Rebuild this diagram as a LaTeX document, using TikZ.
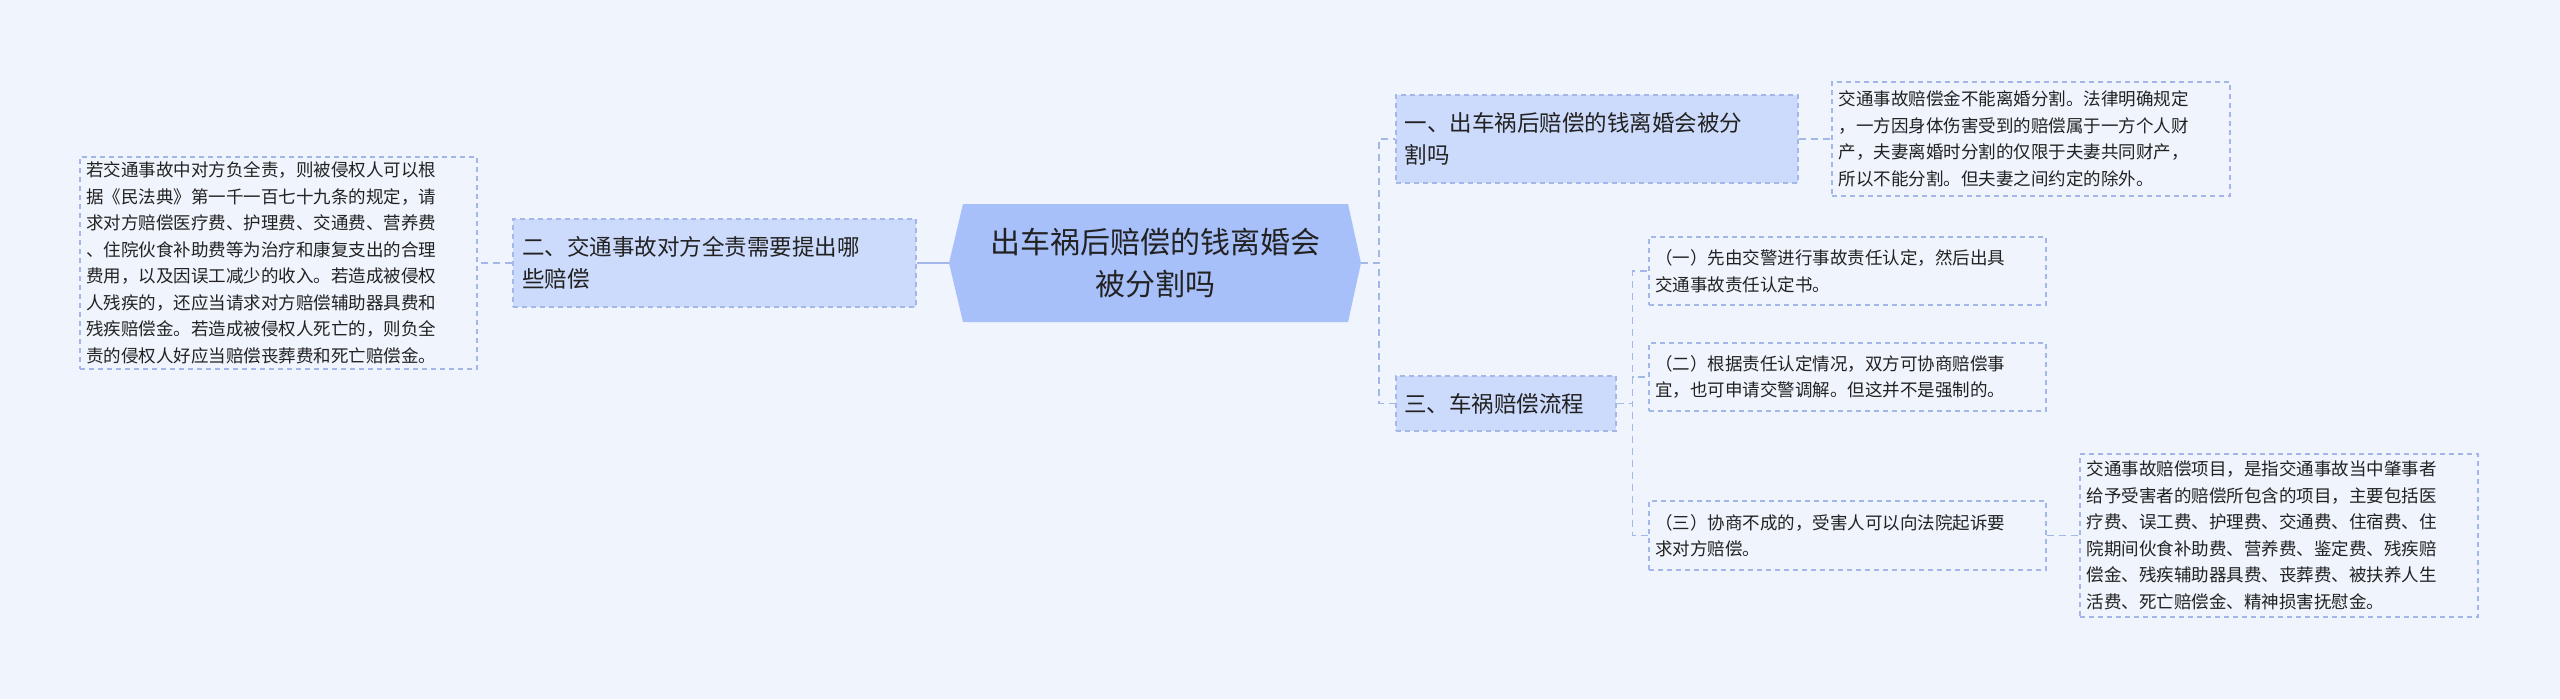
\documentclass[tikz,border=0pt]{standalone}
\usepackage{fontspec}
\setmainfont{Noto Sans CJK SC}
\definecolor{bg}{HTML}{EFF4FD}
\definecolor{cfill}{HTML}{A8C0FA}
\definecolor{bfill}{HTML}{CCDAFB}
\definecolor{edge}{HTML}{A3B8E8}
\definecolor{txt}{HTML}{222222}
\tikzset{
 box/.style={draw=edge,dashed,line width=1.3pt,dash pattern=on 5pt off 4pt,inner sep=0pt,align=left,text=txt},
 small/.style={box,font=\fontsize{17.5}{26.5}\selectfont},
 branch/.style={box,fill=bfill,font=\fontsize{22.5}{32}\selectfont},
 conn/.style={draw=edge,line width=1.6pt,dash pattern=on 7pt off 5pt},
}
\begin{document}
\begin{tikzpicture}[x=1pt,y=-1pt]
\useasboundingbox[fill=bg] (0,0) rectangle (2560,699);
\fill[cfill] (963,204) -- (1348,204) -- (1361,263) -- (1348,322) -- (963,322) -- (949,263) -- cycle;
\node[text=txt,align=center,font=\fontsize{30}{42}\selectfont,minimum width=412pt,minimum height=118pt,inner sep=0pt]
  (c) at (1155,263) {出车祸后赔偿的钱离婚会\\被分割吗};
\node[branch,minimum width=403pt,minimum height=88pt,text width=385pt] (b2) at (714.5,263) {二、交通事故对方全责需要提出哪\\些赔偿};
\node[small,minimum width=397pt,minimum height=212pt,text width=385pt] (t2) at (278.5,263) {若交通事故中对方负全责，则被侵权人可以根\\据《民法典》第一千一百七十九条的规定，请\\求对方赔偿医疗费、护理费、交通费、营养费\\、住院伙食补助费等为治疗和康复支出的合理\\费用，以及因误工减少的收入。若造成被侵权\\人残疾的，还应当请求对方赔偿辅助器具费和\\残疾赔偿金。若造成被侵权人死亡的，则负全\\责的侵权人好应当赔偿丧葬费和死亡赔偿金。};
\node[branch,minimum width=402pt,minimum height=88pt,text width=385pt] (b1) at (1597,139) {一、出车祸后赔偿的钱离婚会被分\\割吗};
\node[small,minimum width=398pt,minimum height=114pt,text width=385pt] (t1) at (2031,139) {交通事故赔偿金不能离婚分割。法律明确规定\\，一方因身体伤害受到的赔偿属于一方个人财\\产，夫妻离婚时分割的仅限于夫妻共同财产，\\所以不能分割。但夫妻之间约定的除外。};
\node[branch,minimum width=220pt,minimum height=55pt,text width=204pt] (b3) at (1506,403.5) {三、车祸赔偿流程};
\node[small,minimum width=397pt,minimum height=68pt,text width=385pt] (s1) at (1847.5,271) {（一）先由交警进行事故责任认定，然后出具\\交通事故责任认定书。};
\node[small,minimum width=397pt,minimum height=68pt,text width=385pt] (s2) at (1847.5,377) {（二）根据责任认定情况，双方可协商赔偿事\\宜，也可申请交警调解。但这并不是强制的。};
\node[small,minimum width=397pt,minimum height=69pt,text width=385pt] (s3) at (1847.5,535.5) {（三）协商不成的，受害人可以向法院起诉要\\求对方赔偿。};
\node[small,minimum width=398pt,minimum height=163pt,text width=385pt] (t3) at (2279,535.5) {交通事故赔偿项目，是指交通事故当中肇事者\\给予受害者的赔偿所包含的项目，主要包括医\\疗费、误工费、护理费、交通费、住宿费、住\\院期间伙食补助费、营养费、鉴定费、残疾赔\\偿金、残疾辅助器具费、丧葬费、被扶养人生\\活费、死亡赔偿金、精神损害抚慰金。};
\draw[draw=edge,line width=2pt] (c.west) -- (b2.east);
\draw[conn] (b2.west) -- (t2.east);
\draw[conn] (c.east) -- ++(18,0) |- (b1.west);
\draw[conn] (c.east) -- ++(18,0) |- (b3.west);
\draw[conn] (b1.east) -- (t1.west);
\draw[conn] (b3.east) -- ++(16,0) |- (s1.west);
\draw[conn] (b3.east) -- ++(16,0) |- (s2.west);
\draw[conn] (b3.east) -- ++(16,0) |- (s3.west);
\draw[conn] (s3.east) -- (t3.west);
\end{tikzpicture}
\end{document}
